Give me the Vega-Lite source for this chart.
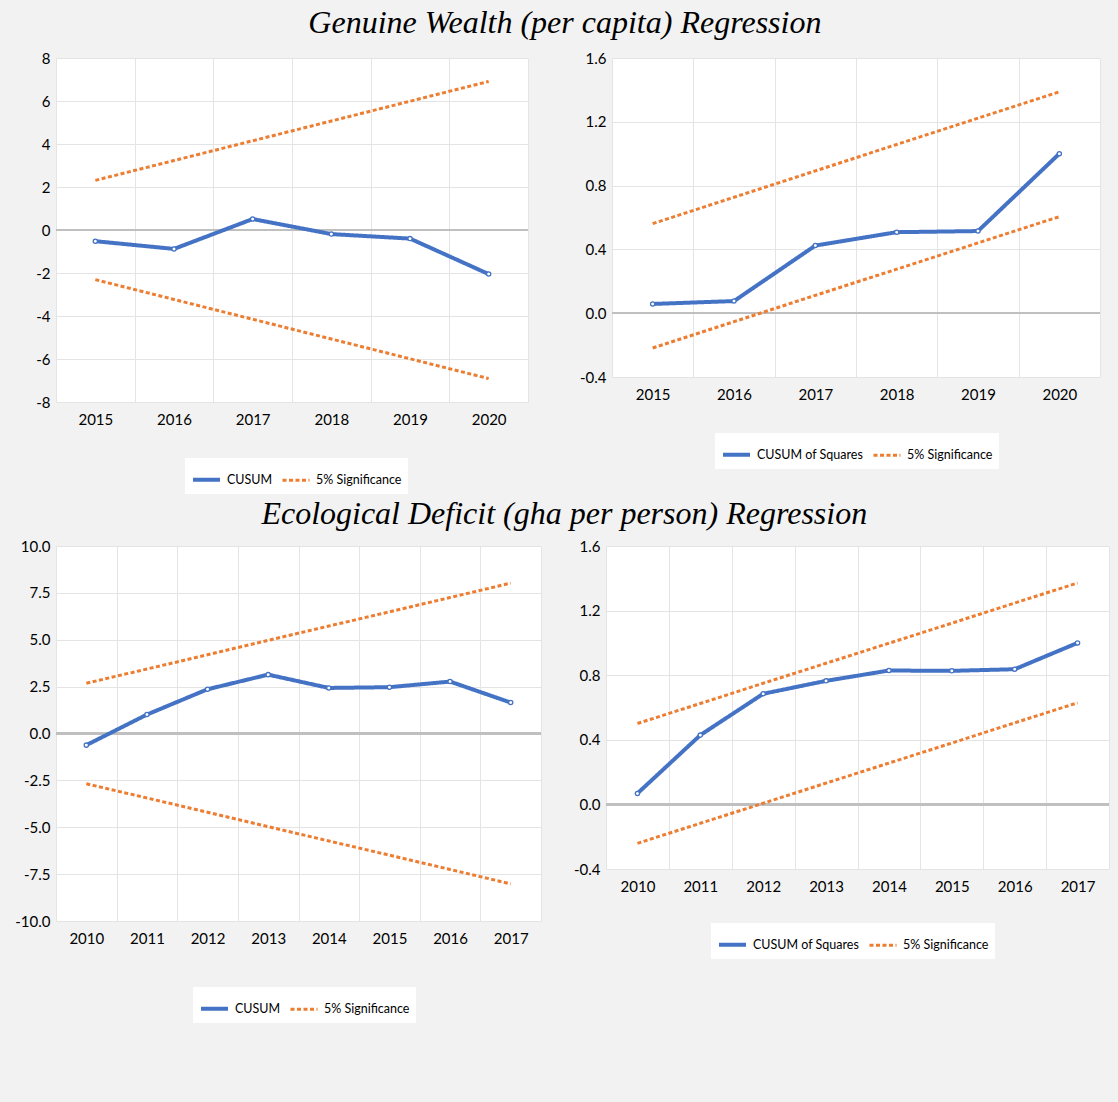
{
  "$schema": "https://vega.github.io/schema/vega-lite/v6.json",
  "background": "#f2f2f2",
  "padding": {"left": 14, "top": 7, "right": 11, "bottom": 85},
  "columns": 1,
  "align": "none",
  "spacing": 4,
  "datasets": {
    "gw1": [
      {"year": 2015, "value": -0.52, "series": "CUSUM", "line": "cusum"},
      {"year": 2016, "value": -0.88, "series": "CUSUM", "line": "cusum"},
      {"year": 2017, "value": 0.51, "series": "CUSUM", "line": "cusum"},
      {"year": 2018, "value": -0.19, "series": "CUSUM", "line": "cusum"},
      {"year": 2019, "value": -0.40, "series": "CUSUM", "line": "cusum"},
      {"year": 2020, "value": -2.05, "series": "CUSUM", "line": "cusum"},
      {"year": 2015, "value": 2.31, "series": "5% Significance", "line": "upper"},
      {"year": 2016, "value": 3.23, "series": "5% Significance", "line": "upper"},
      {"year": 2017, "value": 4.15, "series": "5% Significance", "line": "upper"},
      {"year": 2018, "value": 5.07, "series": "5% Significance", "line": "upper"},
      {"year": 2019, "value": 5.99, "series": "5% Significance", "line": "upper"},
      {"year": 2020, "value": 6.91, "series": "5% Significance", "line": "upper"},
      {"year": 2015, "value": -2.31, "series": "5% Significance", "line": "lower"},
      {"year": 2016, "value": -3.23, "series": "5% Significance", "line": "lower"},
      {"year": 2017, "value": -4.15, "series": "5% Significance", "line": "lower"},
      {"year": 2018, "value": -5.07, "series": "5% Significance", "line": "lower"},
      {"year": 2019, "value": -5.99, "series": "5% Significance", "line": "lower"},
      {"year": 2020, "value": -6.91, "series": "5% Significance", "line": "lower"}
    ],
    "gw2": [
      {"year": 2015, "value": 0.058, "series": "CUSUM of Squares", "line": "cusum"},
      {"year": 2016, "value": 0.076, "series": "CUSUM of Squares", "line": "cusum"},
      {"year": 2017, "value": 0.424, "series": "CUSUM of Squares", "line": "cusum"},
      {"year": 2018, "value": 0.508, "series": "CUSUM of Squares", "line": "cusum"},
      {"year": 2019, "value": 0.515, "series": "CUSUM of Squares", "line": "cusum"},
      {"year": 2020, "value": 1.0, "series": "CUSUM of Squares", "line": "cusum"},
      {"year": 2015, "value": 0.562, "series": "5% Significance", "line": "upper"},
      {"year": 2016, "value": 0.727, "series": "5% Significance", "line": "upper"},
      {"year": 2017, "value": 0.892, "series": "5% Significance", "line": "upper"},
      {"year": 2018, "value": 1.058, "series": "5% Significance", "line": "upper"},
      {"year": 2019, "value": 1.223, "series": "5% Significance", "line": "upper"},
      {"year": 2020, "value": 1.388, "series": "5% Significance", "line": "upper"},
      {"year": 2015, "value": -0.218, "series": "5% Significance", "line": "lower"},
      {"year": 2016, "value": -0.053, "series": "5% Significance", "line": "lower"},
      {"year": 2017, "value": 0.112, "series": "5% Significance", "line": "lower"},
      {"year": 2018, "value": 0.276, "series": "5% Significance", "line": "lower"},
      {"year": 2019, "value": 0.441, "series": "5% Significance", "line": "lower"},
      {"year": 2020, "value": 0.605, "series": "5% Significance", "line": "lower"}
    ],
    "ed1": [
      {"year": 2010, "value": -0.62, "series": "CUSUM", "line": "cusum"},
      {"year": 2011, "value": 1.01, "series": "CUSUM", "line": "cusum"},
      {"year": 2012, "value": 2.36, "series": "CUSUM", "line": "cusum"},
      {"year": 2013, "value": 3.14, "series": "CUSUM", "line": "cusum"},
      {"year": 2014, "value": 2.43, "series": "CUSUM", "line": "cusum"},
      {"year": 2015, "value": 2.47, "series": "CUSUM", "line": "cusum"},
      {"year": 2016, "value": 2.77, "series": "CUSUM", "line": "cusum"},
      {"year": 2017, "value": 1.65, "series": "CUSUM", "line": "cusum"},
      {"year": 2010, "value": 2.68, "series": "5% Significance", "line": "upper"},
      {"year": 2011, "value": 3.44, "series": "5% Significance", "line": "upper"},
      {"year": 2012, "value": 4.20, "series": "5% Significance", "line": "upper"},
      {"year": 2013, "value": 4.97, "series": "5% Significance", "line": "upper"},
      {"year": 2014, "value": 5.73, "series": "5% Significance", "line": "upper"},
      {"year": 2015, "value": 6.49, "series": "5% Significance", "line": "upper"},
      {"year": 2016, "value": 7.25, "series": "5% Significance", "line": "upper"},
      {"year": 2017, "value": 8.02, "series": "5% Significance", "line": "upper"},
      {"year": 2010, "value": -2.68, "series": "5% Significance", "line": "lower"},
      {"year": 2011, "value": -3.44, "series": "5% Significance", "line": "lower"},
      {"year": 2012, "value": -4.20, "series": "5% Significance", "line": "lower"},
      {"year": 2013, "value": -4.97, "series": "5% Significance", "line": "lower"},
      {"year": 2014, "value": -5.73, "series": "5% Significance", "line": "lower"},
      {"year": 2015, "value": -6.49, "series": "5% Significance", "line": "lower"},
      {"year": 2016, "value": -7.25, "series": "5% Significance", "line": "lower"},
      {"year": 2017, "value": -8.02, "series": "5% Significance", "line": "lower"}
    ],
    "ed2": [
      {"year": 2010, "value": 0.068, "series": "CUSUM of Squares", "line": "cusum"},
      {"year": 2011, "value": 0.429, "series": "CUSUM of Squares", "line": "cusum"},
      {"year": 2012, "value": 0.685, "series": "CUSUM of Squares", "line": "cusum"},
      {"year": 2013, "value": 0.765, "series": "CUSUM of Squares", "line": "cusum"},
      {"year": 2014, "value": 0.829, "series": "CUSUM of Squares", "line": "cusum"},
      {"year": 2015, "value": 0.827, "series": "CUSUM of Squares", "line": "cusum"},
      {"year": 2016, "value": 0.837, "series": "CUSUM of Squares", "line": "cusum"},
      {"year": 2017, "value": 1.0, "series": "CUSUM of Squares", "line": "cusum"},
      {"year": 2010, "value": 0.501, "series": "5% Significance", "line": "upper"},
      {"year": 2011, "value": 0.625, "series": "5% Significance", "line": "upper"},
      {"year": 2012, "value": 0.750, "series": "5% Significance", "line": "upper"},
      {"year": 2013, "value": 0.874, "series": "5% Significance", "line": "upper"},
      {"year": 2014, "value": 0.998, "series": "5% Significance", "line": "upper"},
      {"year": 2015, "value": 1.122, "series": "5% Significance", "line": "upper"},
      {"year": 2016, "value": 1.247, "series": "5% Significance", "line": "upper"},
      {"year": 2017, "value": 1.371, "series": "5% Significance", "line": "upper"},
      {"year": 2010, "value": -0.241, "series": "5% Significance", "line": "lower"},
      {"year": 2011, "value": -0.117, "series": "5% Significance", "line": "lower"},
      {"year": 2012, "value": 0.007, "series": "5% Significance", "line": "lower"},
      {"year": 2013, "value": 0.132, "series": "5% Significance", "line": "lower"},
      {"year": 2014, "value": 0.256, "series": "5% Significance", "line": "lower"},
      {"year": 2015, "value": 0.380, "series": "5% Significance", "line": "lower"},
      {"year": 2016, "value": 0.505, "series": "5% Significance", "line": "lower"},
      {"year": 2017, "value": 0.629, "series": "5% Significance", "line": "lower"}
    ]
  },
  "concat": [
    {
      "title": {"text": "Genuine Wealth (per capita) Regression", "dx": 6.5, "offset": 11},
      "spacing": 43,
      "resolve": {"scale": {"color": "independent", "strokeDash": "independent", "strokeWidth": "independent"}, "legend": {"color": "independent", "strokeDash": "independent"}},
      "hconcat": [
        {
          "width": 472, "height": 344,
          "data": {"name": "gw1"},
          "layer": [
            {"mark": {"type": "rule", "color": "#bfbfbf", "strokeWidth": 1.5}, "encoding": {"y": {"datum": 0, "type": "quantitative"}}},
            {
              "mark": {"type": "line"},
              "encoding": {
                "x": {"field": "year", "type": "ordinal", "scale": {"type": "band", "paddingInner": 0, "paddingOuter": 0}},
                "y": {"field": "value", "type": "quantitative", "scale": {"domain": [-8, 8], "nice": false, "zero": false}, "axis": {"values": [-8, -6, -4, -2, 0, 2, 4, 6, 8], "format": "d", "minExtent": 40, "maxExtent": 40}},
                "color": {"field": "series", "type": "nominal", "scale": {"domain": ["CUSUM", "5% Significance"], "range": ["#4472C4", "#ED7D31"]}, "legend": {"legendX": 129, "legendY": 400}},
                "strokeDash": {"field": "series", "type": "nominal", "scale": {"domain": ["CUSUM", "5% Significance"], "range": [[1, 0], [4, 2.5]]}, "legend": {"legendX": 129, "legendY": 400}},
                "strokeWidth": {"field": "series", "type": "nominal", "scale": {"domain": ["CUSUM", "5% Significance"], "range": [4, 3]}, "legend": null},
                "detail": {"field": "line"}
              }
            },
            {
              "transform": [{"filter": "datum.line === 'cusum'"}],
              "mark": {"type": "point", "filled": true, "fill": "white", "stroke": "#4472C4", "strokeWidth": 1.3, "size": 18, "opacity": 1},
              "encoding": {
                "x": {"field": "year", "type": "ordinal"},
                "y": {"field": "value", "type": "quantitative"}
              }
            }
          ]
        },
        {
          "width": 488, "height": 319,
          "data": {"name": "gw2"},
          "layer": [
            {"mark": {"type": "rule", "color": "#bfbfbf", "strokeWidth": 1.5}, "encoding": {"y": {"datum": 0, "type": "quantitative"}}},
            {
              "mark": {"type": "line"},
              "encoding": {
                "x": {"field": "year", "type": "ordinal", "scale": {"type": "band", "paddingInner": 0, "paddingOuter": 0}},
                "y": {"field": "value", "type": "quantitative", "scale": {"domain": [-0.4, 1.6], "nice": false, "zero": false}, "axis": {"values": [-0.4, 0, 0.4, 0.8, 1.2, 1.6], "format": ".1f", "minExtent": 40, "maxExtent": 40}},
                "color": {"field": "series", "type": "nominal", "scale": {"domain": ["CUSUM of Squares", "5% Significance"], "range": ["#4472C4", "#ED7D31"]}, "legend": {"legendX": 103, "legendY": 375}},
                "strokeDash": {"field": "series", "type": "nominal", "scale": {"domain": ["CUSUM of Squares", "5% Significance"], "range": [[1, 0], [4, 2.5]]}, "legend": {"legendX": 103, "legendY": 375}},
                "strokeWidth": {"field": "series", "type": "nominal", "scale": {"domain": ["CUSUM of Squares", "5% Significance"], "range": [4, 3]}, "legend": null},
                "detail": {"field": "line"}
              }
            },
            {
              "transform": [{"filter": "datum.line === 'cusum'"}],
              "mark": {"type": "point", "filled": true, "fill": "white", "stroke": "#4472C4", "strokeWidth": 1.3, "size": 18, "opacity": 1},
              "encoding": {
                "x": {"field": "year", "type": "ordinal"},
                "y": {"field": "value", "type": "quantitative"}
              }
            }
          ]
        }
      ]
    },
    {
      "title": {"text": "Ecological Deficit (gha per person) Regression", "dx": 2, "offset": 8},
      "spacing": 24,
      "resolve": {"scale": {"color": "independent", "strokeDash": "independent", "strokeWidth": "independent"}, "legend": {"color": "independent", "strokeDash": "independent"}},
      "hconcat": [
        {
          "width": 485, "height": 375,
          "data": {"name": "ed1"},
          "layer": [
            {"mark": {"type": "rule", "color": "#bfbfbf", "strokeWidth": 1.5}, "encoding": {"y": {"datum": 0, "type": "quantitative"}}},
            {
              "mark": {"type": "line"},
              "encoding": {
                "x": {"field": "year", "type": "ordinal", "scale": {"type": "band", "paddingInner": 0, "paddingOuter": 0}},
                "y": {"field": "value", "type": "quantitative", "scale": {"domain": [-10, 10], "nice": false, "zero": false}, "axis": {"values": [-10, -7.5, -5, -2.5, 0, 2.5, 5, 7.5, 10], "format": ".1f", "minExtent": 40, "maxExtent": 40}},
                "color": {"field": "series", "type": "nominal", "scale": {"domain": ["CUSUM", "5% Significance"], "range": ["#4472C4", "#ED7D31"]}, "legend": {"legendX": 137, "legendY": 441}},
                "strokeDash": {"field": "series", "type": "nominal", "scale": {"domain": ["CUSUM", "5% Significance"], "range": [[1, 0], [4, 2.5]]}, "legend": {"legendX": 137, "legendY": 441}},
                "strokeWidth": {"field": "series", "type": "nominal", "scale": {"domain": ["CUSUM", "5% Significance"], "range": [4, 3]}, "legend": null},
                "detail": {"field": "line"}
              }
            },
            {
              "transform": [{"filter": "datum.line === 'cusum'"}],
              "mark": {"type": "point", "filled": true, "fill": "white", "stroke": "#4472C4", "strokeWidth": 1.3, "size": 18, "opacity": 1},
              "encoding": {
                "x": {"field": "year", "type": "ordinal"},
                "y": {"field": "value", "type": "quantitative"}
              }
            }
          ]
        },
        {
          "width": 503, "height": 323,
          "data": {"name": "ed2"},
          "layer": [
            {"mark": {"type": "rule", "color": "#bfbfbf", "strokeWidth": 1.5}, "encoding": {"y": {"datum": 0, "type": "quantitative"}}},
            {
              "mark": {"type": "line"},
              "encoding": {
                "x": {"field": "year", "type": "ordinal", "scale": {"type": "band", "paddingInner": 0, "paddingOuter": 0}},
                "y": {"field": "value", "type": "quantitative", "scale": {"domain": [-0.4, 1.6], "nice": false, "zero": false}, "axis": {"values": [-0.4, 0, 0.4, 0.8, 1.2, 1.6], "format": ".1f", "minExtent": 40, "maxExtent": 40}},
                "color": {"field": "series", "type": "nominal", "scale": {"domain": ["CUSUM of Squares", "5% Significance"], "range": ["#4472C4", "#ED7D31"]}, "legend": {"legendX": 105, "legendY": 377}},
                "strokeDash": {"field": "series", "type": "nominal", "scale": {"domain": ["CUSUM of Squares", "5% Significance"], "range": [[1, 0], [4, 2.5]]}, "legend": {"legendX": 105, "legendY": 377}},
                "strokeWidth": {"field": "series", "type": "nominal", "scale": {"domain": ["CUSUM of Squares", "5% Significance"], "range": [4, 3]}, "legend": null},
                "detail": {"field": "line"}
              }
            },
            {
              "transform": [{"filter": "datum.line === 'cusum'"}],
              "mark": {"type": "point", "filled": true, "fill": "white", "stroke": "#4472C4", "strokeWidth": 1.3, "size": 18, "opacity": 1},
              "encoding": {
                "x": {"field": "year", "type": "ordinal"},
                "y": {"field": "value", "type": "quantitative"}
              }
            }
          ]
        }
      ]
    }
  ],
  "config": {
    "view": {"fill": "white", "stroke": null},
    "axis": {"labelFont": "Lato", "labelFontSize": 15, "labelColor": "#000000", "domain": false, "ticks": false, "gridColor": "#e4e4e4", "gridWidth": 1, "title": null},
    "axisX": {"tickBand": "extent", "grid": true, "labelAngle": 0, "labelPadding": 10},
    "axisY": {"grid": true, "labelPadding": 6, "labelExpr": "replace(datum.label, '\u2212', '-')"},
    "legend": {"orient": "none", "direction": "horizontal", "title": null, "fillColor": "white", "padding": 6, "labelFont": "Lato", "labelFontSize": 12.5, "labelColor": "#000000", "symbolType": "stroke", "symbolSize": 729, "symbolStrokeWidth": 3.5, "columnPadding": 3, "labelOffset": 5},
    "title": {"font": "Liberation Serif", "fontStyle": "italic", "fontSize": 32, "fontWeight": "normal", "color": "#000000", "anchor": "middle"}
  }
}
